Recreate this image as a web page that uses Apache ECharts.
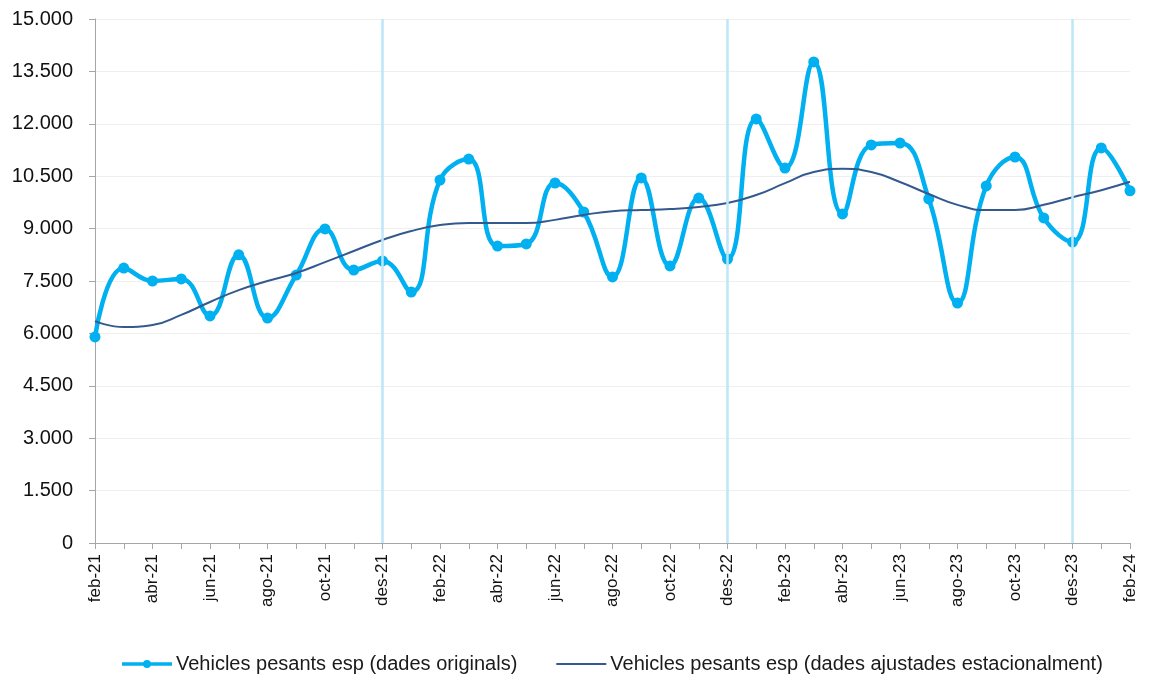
<!DOCTYPE html>
<html><head><meta charset="utf-8">
<script src="https://cdn.jsdelivr.net/npm/echarts@6/dist/echarts.min.js"></script>
<style>html,body{margin:0;padding:0;background:#fff}#c{width:1149px;height:680px}</style>
</head><body><div id="c"></div>
<script>
const categories = ['feb-21','mar-21','abr-21','mai-21','jun-21','jul-21','ago-21','set-21','oct-21','nov-21','des-21','gen-22',
'feb-22','mar-22','abr-22','mai-22','jun-22','jul-22','ago-22','set-22','oct-22','nov-22','des-22','gen-23',
'feb-23','mar-23','abr-23','mai-23','jun-23','jul-23','ago-23','set-23','oct-23','nov-23','des-23','gen-24','feb-24'];
const originals = [5900,7870,7500,7560,6500,8250,6440,7670,8990,7815,8075,7185,
10390,10990,8500,8560,10305,9475,7615,10450,7930,9875,8130,12140,
10735,13770,9420,11395,11450,9850,6870,10220,11050,9305,8615,11310,10080];
const ajustades = [6350,6180,6240,6530,6900,7240,7500,7730,8040,8360,8675,8930,
9100,9160,9160,9160,9250,9390,9500,9530,9560,9620,9730,9960,
10300,10620,10710,10620,10335,9990,9680,9530,9530,9680,9900,10100,10340];
const yearMarks = ['des-21','des-22','des-23'];
const seriesNames = ['Vehicles pesants esp (dades originals)','Vehicles pesants esp (dades ajustades estacionalment)'];

const chart = echarts.init(document.getElementById('c'));
const fmt = v => v === 0 ? '0' : v.toLocaleString('de-DE');
const FONT = 'Liberation Sans, Arial, sans-serif';
chart.setOption({
  animation:false,
  textStyle:{fontFamily:FONT},
  grid:{left:95,right:19,top:19,bottom:137,containLabel:false},
  legend:{
    top:649,left:117,itemWidth:50,itemHeight:8,itemGap:39,
    textStyle:{fontSize:20,color:'#1a1a1a',fontFamily:FONT,padding:[0,0,0,-1]},
    data:[
      {name:seriesNames[0],icon:'path://M0,2.2 L50,2.2 L50,5.8 L0,5.8 Z M21,4 A4,4 0 1,1 29,4 A4,4 0 1,1 21,4 Z'},
      {name:seriesNames[1],icon:'path://M0,0 L0.01,0 L0.01,0.01 Z M0,2.9 L50,2.9 L50,5.1 L0,5.1 Z M49.99,8 L50,8 L50,7.99 Z'}
    ]
  },
  xAxis:{
    type:'category',data:categories,boundaryGap:false,
    axisLine:{lineStyle:{color:'#a6a6a6',width:1}},
    axisTick:{show:true,interval:0,length:6,lineStyle:{color:'#a6a6a6'}},
    axisLabel:{interval:1,rotate:90,fontSize:17,color:'#111',margin:11}
  },
  yAxis:{
    type:'value',min:0,max:15000,interval:1500,
    axisLine:{show:true,lineStyle:{color:'#a6a6a6'}},
    axisTick:{show:true,length:6,lineStyle:{color:'#a6a6a6'}},
    splitLine:{lineStyle:{color:'#efefef',width:1}},
    axisLabel:{fontSize:20,color:'#111',formatter:fmt,margin:22}
  },
  series:[
    {
      name:seriesNames[0],type:'line',data:originals,smooth:0.45,
      symbol:'circle',symbolSize:11,showSymbol:true,
      lineStyle:{color:'#00b0f0',width:4.5},
      itemStyle:{color:'#00b0f0'},
      z:3,
      markLine:{
        silent:true,symbol:'none',label:{show:false},
        lineStyle:{color:'#bde6f7',width:2.5,type:'solid'},
        data:yearMarks.map(m=>({xAxis:m}))
      }
    },
    {
      name:seriesNames[1],type:'line',data:ajustades,smooth:0.5,
      symbol:'none',
      lineStyle:{color:'#34598f',width:2},
      itemStyle:{color:'#34598f'},
      z:4
    }
  ]
});
</script></body></html>
